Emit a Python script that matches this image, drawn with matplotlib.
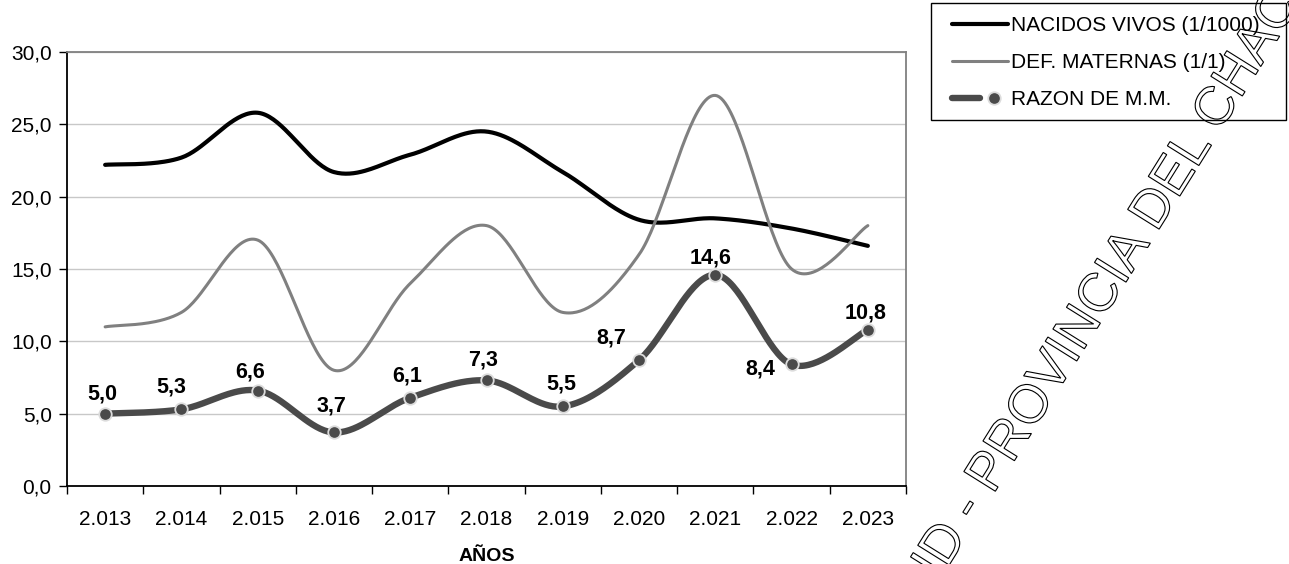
import numpy as np
import matplotlib
matplotlib.use("Agg")
import matplotlib.pyplot as plt
from matplotlib.patches import Rectangle, PathPatch
from matplotlib.textpath import TextPath
from matplotlib.font_manager import FontProperties
from matplotlib.transforms import Affine2D, IdentityTransform
from matplotlib.legend_handler import HandlerTuple

# ---------------- data ----------------
years = ["2.013", "2.014", "2.015", "2.016", "2.017", "2.018",
         "2.019", "2.020", "2.021", "2.022", "2.023"]
nacidos_vivos = [22.2, 22.7, 25.8, 21.7, 22.9, 24.5, 21.7, 18.4, 18.5, 17.8, 16.6]
def_maternas = [11, 12, 17, 8, 14, 18, 12, 16, 27, 15, 18]
razon_mm = [5.0, 5.3, 6.6, 3.7, 6.1, 7.3, 5.5, 8.7, 14.6, 8.4, 10.8]
series_labels = ["NACIDOS VIVOS (1/1000)", "DEF. MATERNAS (1/1)", "RAZON DE M.M."]
y_ticks = [0, 5, 10, 15, 20, 25, 30]

# label offsets in pixels (dx, dy) relative to each point (style only)
label_offsets = [(-3, 20), (-10, 22), (-8, 19), (-2, 26), (-3, 22), (-3, 20),
                 (-1, 22), (-28, 22), (-5, 17), (-31, -5), (-2, 17)]

plt.rcParams['font.family'] = ['Liberation Sans', 'DejaVu Sans']


def smooth(xv, yv, n=40):
    """Excel-style smoothed line (Catmull-Rom Bezier) through the points."""
    xv = np.asarray(xv, float)
    yv = np.asarray(yv, float)
    P = np.column_stack([xv, yv])
    out = []
    m = len(P)
    t = np.linspace(0, 1, n)[:, None]
    for i in range(m - 1):
        p0 = P[i - 1] if i > 0 else P[i]
        p1 = P[i]
        p2 = P[i + 1]
        p3 = P[i + 2] if i + 2 < m else P[i + 1]
        c1 = p1 + (p2 - p0) / 6.0
        c2 = p2 - (p3 - p1) / 6.0
        seg = ((1 - t) ** 3) * p1 + 3 * ((1 - t) ** 2) * t * c1 + 3 * (1 - t) * t ** 2 * c2 + t ** 3 * p2
        if i > 0:
            seg = seg[1:]
        out.append(seg)
    out = np.vstack(out)
    return out[:, 0], out[:, 1]


W, H = 1289, 564
fig = plt.figure(figsize=(W / 100, H / 100), dpi=100)
ax = fig.add_axes([67 / W, (H - 486) / H, (906 - 67) / W, (486 - 52) / H])

x = np.arange(len(years))

c_nv = "#000000"
c_dm = "#808080"
c_rz = "#4a4a4a"

xs, ys = smooth(x, nacidos_vivos)
l1, = ax.plot(xs, ys, color=c_nv, lw=3.0, solid_capstyle='round', zorder=3)
xs, ys = smooth(x, def_maternas)
l2, = ax.plot(xs, ys, color=c_dm, lw=2.2, solid_capstyle='round', zorder=4)
xs, ys = smooth(x, razon_mm)
l3, = ax.plot(xs, ys, color=c_rz, lw=4.6, solid_capstyle='round', zorder=5)
m3, = ax.plot(x, razon_mm, linestyle='none', marker='o', markersize=9,
              markerfacecolor=c_rz, markeredgecolor="#dcdcdc", markeredgewidth=1.3, zorder=6)

for xi, v, (dx, dy) in zip(x, razon_mm, label_offsets):
    ax.annotate(f"{v:.1f}".replace(".", ","), (xi, v), xytext=(dx, dy),
                textcoords='offset pixels', ha='center', va='center',
                fontsize=15.5, fontweight='bold', color='black', zorder=7)

ax.set_xlim(-0.5, len(years) - 0.5)
ax.set_ylim(0, 30)
ax.set_yticks(y_ticks)
ax.set_yticklabels([f"{v:.1f}".replace(".", ",") for v in y_ticks])
ax.set_xticks(x)
ax.set_xticklabels(years)
ax.set_xticks(np.arange(len(years) + 1) - 0.5, minor=True)
ax.tick_params(axis='x', which='major', length=0, pad=17, labelsize=15)
ax.tick_params(axis='x', which='minor', length=6, width=1, direction='out', color='black')
ax.tick_params(axis='y', length=6, width=1, direction='out', pad=5, labelsize=15, color='black')

ax.grid(axis='y', color='#c8c8c8', lw=1.0, zorder=0)
ax.set_axisbelow(True)
for s in ['top', 'right']:
    ax.spines[s].set_color('#808080')
    ax.spines[s].set_linewidth(1.3)
for s in ['left', 'bottom']:
    ax.spines[s].set_color('#000000')
    ax.spines[s].set_linewidth(1.3)

ax.set_xlabel("AÑOS", fontsize=14, fontweight='bold', labelpad=14)

# legend frame + legend
fig.patches.append(Rectangle((931 / W, (H - 120) / H), (1286 - 931) / W, 117 / H,
                             transform=fig.transFigure, facecolor='white',
                             edgecolor='black', lw=1.0, zorder=4))
leg = fig.legend([l1, l2, (l3, m3)], series_labels, loc='upper left',
                 bbox_to_anchor=(952 / W, (H - 16) / H), bbox_transform=fig.transFigure,
                 frameon=False, fontsize=15, borderpad=0, borderaxespad=0,
                 handlelength=2.7, handletextpad=0.15, labelspacing=0.86,
                 numpoints=1, handler_map={tuple: HandlerTuple(ndivide=None, pad=0)})
leg.set_zorder(5)

# watermark (outline text)
fp = FontProperties(family='Liberation Sans')
size = 54
prefix = "MINISTERIO DE SALUD - "
full = prefix + "PROVINCIA DEL CHACO"
pw = (TextPath((0, 0), prefix + "P", size=size, prop=fp).get_extents().x1
      - TextPath((0, 0), "P", size=size, prop=fp).get_extents().x1)
tp = TextPath((-pw, 0), full, size=size, prop=fp)
ang = 58
tr = Affine2D().rotate_deg(ang).translate(993, H - 495)
wm = PathPatch(tr.transform_path(tp), facecolor='none', edgecolor='black', lw=0.8,
               transform=IdentityTransform(), zorder=10)
fig.patches.append(wm)

fig.savefig("out.png", dpi=100)
